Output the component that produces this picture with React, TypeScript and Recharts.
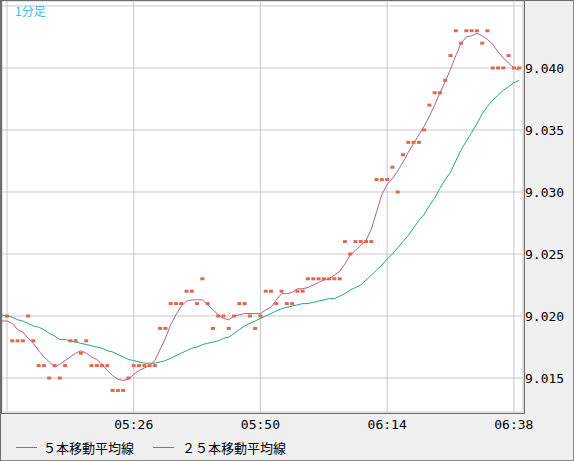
import React from 'react';
import { ComposedChart, Line, Scatter, XAxis, YAxis, CartesianGrid } from 'recharts';

// minute offsets from 05:02 (index 0 => -1 = 05:01)
const firstMinute = -1;

// close price dots (05:01 .. 06:39)
const closes: (number | null)[] = [
  null,
  9.020, 9.018, 9.018, 9.018, 9.020, 9.018, 9.016, 9.016, 9.015, 9.016,
  9.015, 9.016, 9.018, 9.018, 9.017, 9.018, 9.016, 9.016, 9.016, 9.016,
  9.014, 9.014, 9.014, 9.015, 9.016, 9.016, 9.016, 9.016, 9.016, 9.019,
  9.019, 9.021, 9.021, 9.021, 9.022, 9.022, 9.021, 9.023, 9.021, 9.019,
  9.020, 9.020, 9.019, 9.020, 9.021, 9.021, 9.020, 9.019, 9.020, 9.022,
  9.022, 9.021, 9.022, 9.021, 9.021, 9.022, 9.022, 9.023, 9.023, 9.023,
  9.023, 9.023, 9.023, 9.023, 9.026, 9.025, 9.026, 9.026, 9.026, 9.026,
  9.031, 9.031, 9.031, 9.032, 9.030, 9.033, 9.034, 9.034, 9.034, 9.035,
  9.037, 9.038, 9.038, 9.039, 9.041, 9.043, 9.042, 9.043, 9.043, 9.043,
  9.042, 9.043, 9.040, 9.040, 9.040, 9.041, 9.040, 9.040,
];

// 5-bar moving average line
const ma5: number[] = [
  9.0196,
  9.0196, 9.0194, 9.0189, 9.0187, 9.0182, 9.0178, 9.0172, 9.0167, 9.0163, 9.0159,
  9.0161, 9.0164, 9.0167, 9.0170, 9.0172, 9.0170, 9.0167, 9.0165, 9.0161, 9.0156,
  9.0152, 9.0149, 9.0148, 9.0149, 9.0153, 9.0156, 9.0158, 9.0160, 9.0164, 9.0173,
  9.0182, 9.0193, 9.0201, 9.0208, 9.0212, 9.0213, 9.0213, 9.0213, 9.0209, 9.0205,
  9.0201, 9.0198, 9.0197, 9.0200, 9.0201, 9.0202, 9.0202, 9.0202, 9.0202, 9.0205,
  9.0207, 9.0213, 9.0218, 9.0218, 9.0219, 9.0222, 9.0222, 9.0223, 9.0225, 9.0227,
  9.0229, 9.0230, 9.0233, 9.0236, 9.0242, 9.0249, 9.0253, 9.0257, 9.0261, 9.0270,
  9.0284, 9.0298, 9.0306, 9.0311, 9.0317, 9.0324, 9.0332, 9.0339, 9.0346, 9.0353,
  9.0361, 9.0370, 9.0380, 9.0389, 9.0399, 9.0410, 9.0420, 9.0425, 9.0426, 9.0428,
  9.0426, 9.0423, 9.0419, 9.0413, 9.0408, 9.0404, 9.0400, 9.0398,
];

// 25-bar moving average line
const ma25: number[] = [
  9.0201,
  9.0200, 9.0199, 9.0197, 9.0196, 9.0194, 9.0192, 9.0191, 9.0189, 9.0186, 9.0184,
  9.0181, 9.0181, 9.0180, 9.0179, 9.0178, 9.0177, 9.0176, 9.0175, 9.0174, 9.0172,
  9.0171, 9.0169, 9.0167, 9.0165, 9.0164, 9.0163, 9.0162, 9.0162, 9.0162, 9.0163,
  9.0164, 9.0166, 9.0168, 9.0170, 9.0172, 9.0174, 9.0175, 9.0177, 9.0178, 9.0179,
  9.0180, 9.0182, 9.0183, 9.0186, 9.0189, 9.0192, 9.0194, 9.0196, 9.0198, 9.0200,
  9.0202, 9.0204, 9.0206, 9.0207, 9.0208, 9.0209, 9.0210, 9.0210, 9.0211, 9.0212,
  9.0213, 9.0214, 9.0214, 9.0216, 9.0218, 9.0221, 9.0223, 9.0225, 9.0229, 9.0233,
  9.0237, 9.0241, 9.0246, 9.0250, 9.0255, 9.0260, 9.0265, 9.0271, 9.0277, 9.0282,
  9.0289, 9.0295, 9.0303, 9.0310, 9.0316, 9.0325, 9.0334, 9.0341, 9.0348, 9.0355,
  9.0363, 9.0369, 9.0374, 9.0378, 9.0382, 9.0385, 9.0388, 9.0390,
];

const xTicks = [0, 24, 48, 72, 96];
const xTickLabels = ['', '05:26', '05:50', '06:14', '06:38'];
const yTicks = [9.015, 9.02, 9.025, 9.03, 9.035, 9.04, 9.045];
const yTickLabels = ['9.015', '9.020', '9.025', '9.030', '9.035', '9.040', ''];

const data = closes.map((c, i) => ({
  m: firstMinute + i,
  close: c,
  ma5: ma5[i],
  ma25: ma25[i],
}));

const DOT = '#db6a4f';
const PURPLE = '#b3608d';
const GREEN = '#22aa76';

const DotShape = (props: any) => {
  const { cx, cy } = props;
  if (!Number.isFinite(cx) || !Number.isFinite(cy)) return null;
  return <rect x={cx - 2} y={cy - 1.5} width={4} height={3} fill={DOT} />;
};

const tickFont = { fill: '#000', fontSize: 13, fontFamily: '"DejaVu Sans Mono", monospace' };

export default function App() {
  return (
    <div style={{ position: 'relative', width: 574, height: 461, background: '#f0f0f0', boxSizing: 'border-box', borderTop: '1px solid #6e6e6e', borderLeft: '1px solid #6e6e6e', borderRight: '1px solid #8a8a8a', borderBottom: '1px solid #8a8a8a', overflow: 'hidden' }}>
      <style>{'body{margin:0}'}</style>
      <div style={{ position: 'absolute', left: -1, top: -1 }}>
        <ComposedChart width={574} height={462} data={data} margin={{ top: 1, right: 1, bottom: 20, left: 2 }}>
          <CartesianGrid stroke="#c8c8c8" fill="#ffffff" fillOpacity={1} />
          <XAxis
            dataKey="m"
            type="number"
            domain={[-0.947, 97.727]}
            allowDataOverflow
            ticks={xTicks}
            interval={0}
            tickFormatter={(v: number) => xTickLabels[xTicks.indexOf(v)] ?? ''}
            axisLine={false}
            tickLine={false}
            tickSize={0}
            tickMargin={8}
            height={30}
            tick={tickFont}
          />
          <YAxis
            orientation="right"
            type="number"
            domain={[9.01226, 9.0454]}
            allowDataOverflow
            ticks={yTicks}
            interval={0}
            tickFormatter={(v: number) => yTickLabels[yTicks.findIndex((t) => Math.abs(t - v) < 1e-6)] ?? ''}
            axisLine={false}
            tickLine={false}
            tickSize={0}
            tickMargin={2}
            width={50}
            tick={{ ...tickFont, textAnchor: 'start' }}
          />
          <Line dataKey="ma25" stroke={GREEN} strokeWidth={1} dot={false} isAnimationActive={false} type="linear" />
          <Line dataKey="ma5" stroke={PURPLE} strokeWidth={1} dot={false} isAnimationActive={false} type="linear" />
          <Scatter dataKey="close" shape={DotShape} isAnimationActive={false} />
        </ComposedChart>
      </div>
      {/* plot frame */}
      <div style={{ position: 'absolute', left: -1, top: -1, width: 525, height: 414, boxSizing: 'border-box', borderTop: '1px solid #6e6e6e', borderLeft: '2px solid #6e6e6e', borderRight: '1px solid #6e6e6e', borderBottom: '1px solid #6e6e6e', pointerEvents: 'none' }} />
      <div style={{ position: 'absolute', left: 14, top: 3, fontSize: 12, lineHeight: '13px', color: '#3bbdef', fontFamily: '"Noto Sans CJK JP", sans-serif' }}>1分足</div>
      {/* legend */}
      <div style={{ position: 'absolute', left: 15, top: 446, width: 21, height: 1, background: PURPLE }} />
      <div style={{ position: 'absolute', left: 42, top: 439, fontSize: 13, lineHeight: '16px', color: '#000', fontFamily: '"Noto Sans CJK JP", sans-serif', whiteSpace: 'nowrap' }}>５本移動平均線</div>
      <div style={{ position: 'absolute', left: 152, top: 446, width: 21, height: 1, background: GREEN }} />
      <div style={{ position: 'absolute', left: 181, top: 439, fontSize: 13, lineHeight: '16px', color: '#000', fontFamily: '"Noto Sans CJK JP", sans-serif', whiteSpace: 'nowrap' }}>２５本移動平均線</div>
    </div>
  );
}
